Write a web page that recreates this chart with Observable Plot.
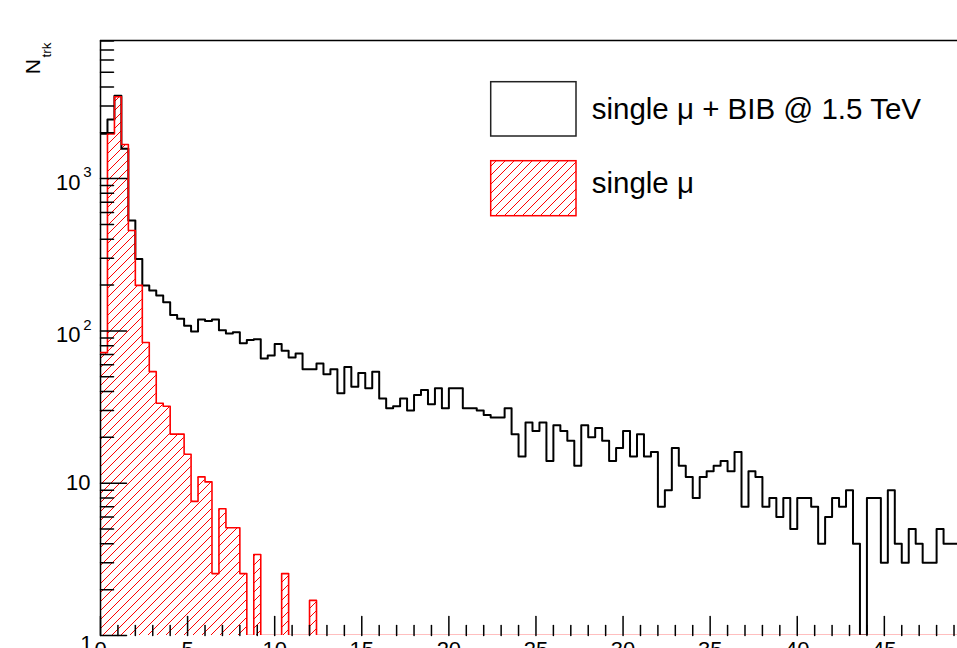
<!DOCTYPE html>
<html>
<head>
<meta charset="utf-8">
<script src="https://cdn.jsdelivr.net/npm/d3@7"></script>
<script src="https://cdn.jsdelivr.net/npm/@observablehq/plot@0.6"></script>
<style>
  html, body { margin: 0; padding: 0; background: #fff; overflow: hidden; }
  #chart { position: relative; width: 957px; height: 648px; }
</style>
</head>
<body>
<svg width="0" height="0" style="position:absolute">
  <defs>
    <pattern id="hatch-red" patternUnits="userSpaceOnUse" width="9" height="9">
      <path d="M-1,1 L1,-1 M0,9 L9,0 M8,10 L10,8" stroke="#ff0000" stroke-width="1" fill="none"/>
    </pattern>
  </defs>
</svg>
<div id="chart"></div>
<script>
// Histogram binning: bins of width 0.4 starting at 0
const binWidth = 0.4;

// Track counts per bin, single muon overlaid with beam-induced background at 1.5 TeV
const muBib = [
  1968, 2443, 3500, 1569, 531, 297, 199, 184, 171, 154,
  127, 120, 108, 99, 119, 116, 119, 101, 96, 98,
  83, 87, 88, 66, 69, 82, 74, 67, 71, 56,
  56, 61, 52, 56, 39, 58, 43, 53, 42, 54,
  36, 31, 32, 36, 30, 38, 41, 33, 42, 31,
  42, 42, 31, 31, 30, 28, 27, 27, 31, 21,
  15, 25, 22, 25, 14, 24, 22, 19, 13, 24,
  20, 23, 19, 14, 17, 22, 15, 21, 15, 16,
  7, 9, 17, 13, 11, 8, 11, 12, 13, 14,
  12, 16, 7, 12, 11, 7, 8, 6, 8, 5,
  8, 8, 7, 4, 6, 8, 7, 9, 4, 0,
  8, 8, 3, 9, 4, 3, 5, 4, 3, 3,
  5, 4, 4
];

// Track counts per bin, single muon alone
const muOnly = [
  72, 1968, 3450, 1675, 456, 199, 84, 54, 33.5, 32,
  21, 21, 15.5, 7.6, 11, 10.2, 2.55, 6.8, 5.1, 5.1,
  2.55, 0, 3.4, 0, 0, 0, 2.55, 0, 0, 0,
  1.7, 0, 0, 0, 0, 0, 0, 0, 0, 0,
  0, 0, 0, 0, 0, 0, 0, 0, 0, 0,
  0, 0, 0, 0, 0, 0, 0, 0, 0, 0,
  0, 0, 0, 0, 0, 0, 0, 0, 0, 0,
  0, 0, 0, 0, 0, 0, 0, 0, 0, 0,
  0, 0, 0, 0, 0, 0, 0, 0, 0, 0,
  0, 0, 0, 0, 0, 0, 0, 0, 0, 0,
  0, 0, 0, 0, 0, 0, 0, 0, 0, 0,
  0, 0, 0, 0, 0, 0, 0, 0, 0, 0,
  0, 0, 0
];

// Axis ticks and labels
const xMajorTicks = [0, 5, 10, 15, 20, 25, 30, 35, 40, 45];
const xMinorTicks = d3.range(1, 50).filter(v => v % 5 !== 0);
const yBottomTick = [1];
const yBottomLabel = ["1"];
const yTenTick = [10];
const yTenLabel = ["10"];
const yPowerTicks = [100, 1000];
const yPowerBase = ["10", "10"];
const yPowerExp = ["2", "3"];
const yMajorTicks = [1, 10, 100, 1000];
const yMinorTicks = [0, 1, 2, 3].flatMap(e => d3.range(2, 10).map(m => m * 10 ** e)).filter(v => v < 8070);

const legendLabels = ["single \u03BC + BIB @ 1.5 TeV", "single \u03BC"];
const yTitle = "N";
const yTitleSub = "trk";

const xDomain = [0, 49.2];
const yDomain = [1, 8070];
const font = "'Liberation Sans', Arial, Helvetica, sans-serif";

// Step points: one per bin lower edge plus the closing edge
const steps = muBib.map((v, i) => ({x: i * binWidth, bib: v, mu: muOnly[i]}));
steps.push({x: muBib.length * binWidth, bib: muBib[muBib.length - 1], mu: muOnly[muOnly.length - 1]});
const floorLog = v => Math.max(v, 1);

const tickShape = {draw(context, l) { context.moveTo(0, 0); context.lineTo(0, -l); }};

const plot = Plot.plot({
  width: 957,
  height: 648,
  marginLeft: 100,
  marginRight: 0,
  marginTop: 40,
  marginBottom: 13,
  style: {overflow: "visible", fontFamily: font, background: "#fff"},
  x: {domain: xDomain, axis: null},
  y: {type: "log", domain: yDomain, axis: null},
  marks: [
    // red hatched fill for the single-muon histogram
    Plot.areaY(steps, {x: "x", y1: () => 1, y2: d => floorLog(d.mu), curve: "step-after", fill: "url(#hatch-red)"}),
    // black outline: muon + BIB
    Plot.line(steps, {x: "x", y: d => floorLog(d.bib), curve: "step-after", stroke: "#000", strokeWidth: 2, clip: true}),
    // frame: left and top edges
    Plot.ruleX([xDomain[0]], {stroke: "#000", strokeWidth: 1.5}),
    Plot.ruleY([yDomain[1]], {stroke: "#000", strokeWidth: 1.5}),
    // red outline for single muon
    Plot.line(steps, {x: "x", y: d => floorLog(d.mu), curve: "step-after", stroke: "#ff0000", strokeWidth: 1.6, clip: true}),
    // inward ticks
    Plot.vector(yMajorTicks, {x: () => 0, y: d => d, length: 26, rotate: 90, anchor: "start", shape: tickShape, stroke: "#000", strokeWidth: 1.5}),
    Plot.vector(yMinorTicks, {x: () => 0, y: d => d, length: 13, rotate: 90, anchor: "start", shape: tickShape, stroke: "#000", strokeWidth: 1.5}),
    Plot.vector(xMajorTicks, {x: d => d, y: () => 1, length: 19, rotate: 0, anchor: "start", shape: tickShape, stroke: "#000", strokeWidth: 1.5}),
    Plot.vector(xMinorTicks, {x: d => d, y: () => 1, length: 10, rotate: 0, anchor: "start", shape: tickShape, stroke: "#000", strokeWidth: 1.5}),
    // y tick labels: 1, 10, 10^2, 10^3
    Plot.text(yBottomTick, {x: () => 0, y: d => d, text: (d, i) => yBottomLabel[i], textAnchor: "end", dx: -8, dy: 8, fontSize: 22, fill: "#000"}),
    Plot.text(yTenTick, {x: () => 0, y: d => d, text: (d, i) => yTenLabel[i], textAnchor: "end", dx: -10, fontSize: 22, fill: "#000"}),
    Plot.text(yPowerTicks, {x: () => 0, y: d => d, text: (d, i) => yPowerBase[i], textAnchor: "end", dx: -20, dy: 4, fontSize: 22, fill: "#000"}),
    Plot.text(yPowerTicks, {x: () => 0, y: d => d, text: (d, i) => yPowerExp[i], textAnchor: "end", dx: -9, dy: -6, fontSize: 15, fill: "#000"}),
    // x tick labels
    Plot.text(xMajorTicks, {x: d => d, y: () => 1, text: d => String(d), lineAnchor: "top", dy: 6, fontSize: 22, fill: "#000"}),
    // y-axis title N_trk, rotated
    Plot.text([yTitle], {frameAnchor: "top-left", text: d => d, rotate: -90, textAnchor: "start", lineAnchor: "bottom", dx: -61, dy: 33.8, fontSize: 21, fill: "#000"}),
    Plot.text([yTitleSub], {frameAnchor: "top-left", text: d => d, rotate: -90, textAnchor: "start", lineAnchor: "bottom", dx: -50, dy: 17, fontSize: 13.5, fill: "#000"})
  ]
});

// Legend drawn inside the same svg
const svg = d3.select(plot);
const lg = svg.append("g").attr("font-family", font).attr("text-anchor", "start");
lg.append("rect").attr("x", 490.7).attr("y", 81.7).attr("width", 85.3).attr("height", 54.3)
  .attr("fill", "#fff").attr("stroke", "#222").attr("stroke-width", 1.5);
lg.append("rect").attr("x", 490.7).attr("y", 160.7).attr("width", 85.3).attr("height", 55)
  .attr("fill", "url(#hatch-red)").attr("stroke", "#ff0000").attr("stroke-width", 1.5);
lg.append("text").attr("x", 591.7).attr("y", 119).attr("font-size", 29.5).attr("fill", "#000").text(legendLabels[0]);
lg.append("text").attr("x", 591.7).attr("y", 193).attr("font-size", 29.5).attr("fill", "#000").text(legendLabels[1]);

document.getElementById("chart").appendChild(plot);
</script>
</body>
</html>
